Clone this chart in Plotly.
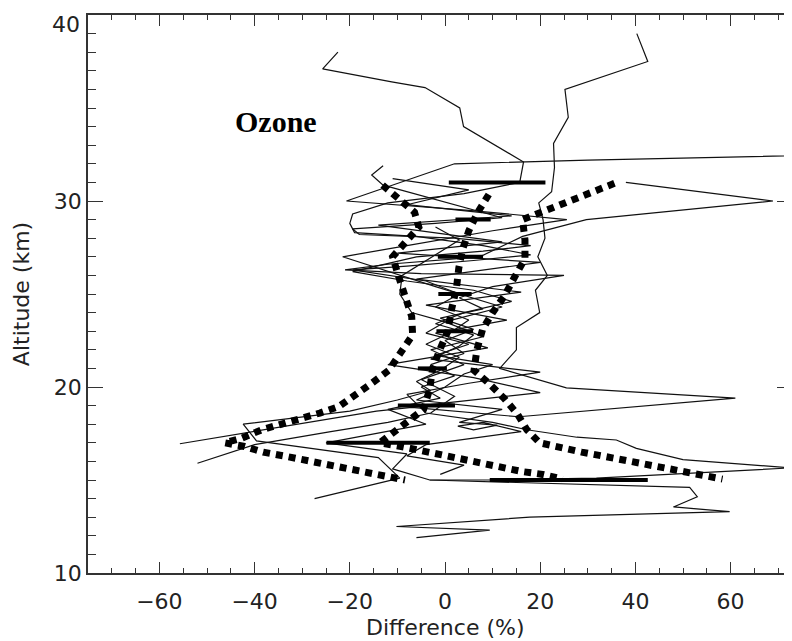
import plotly.graph_objects as go

# ---------------- data ----------------
# thin individual difference profiles: x = difference (%), y = altitude (km)
p1_x = [-22.5, -25.7, -11.2, -4.2, 3.1, 3.9, 16.5, 15.7, 4.0, -12.0, -19.4, -20.0, -19.0, -6.0, 8.0, 18.0, 6.0,
        -8.0, -19.4, -4.0, 3.0, -2.0, 5.0, 1.0, -4.0, 3.0, -1.0, -6.0, -3.0, -10.0, -20.0, -42.4, -39.6, -28.0,
        -14.0, -9.5, -27.4]
p1_y = [38.0, 37.1, 36.4, 36.1, 35.0, 34.0, 32.1, 31.0, 30.4, 29.9, 29.3, 28.8, 28.3, 28.1, 27.6, 27.1, 26.8,
        26.5, 26.3, 25.7, 25.0, 24.3, 23.6, 22.9, 22.3, 21.6, 20.9, 20.3, 19.8, 19.3, 18.7, 18.0, 17.1, 16.7,
        16.2, 15.1, 14.0]

p2_x = [40.3, 42.6, 25.2, 25.9, 22.8, 23.0, 22.4, 19.7, 20.6, 21.0, 19.5, 21.5, 19.0, 19.9, 15.0, 15.0, 11.5,
        25.5, 61.0, 15.5, -7.0, -14.4, -55.7]
p2_y = [39.0, 37.5, 36.0, 34.5, 33.1, 31.8, 30.5, 29.9, 29.0, 28.0, 27.0, 26.0, 25.2, 24.0, 23.2, 22.0, 21.0,
        19.95, 19.4, 18.4, 18.9, 18.7, 16.95]

p3_x = [-52.0, -40.0, -24.0, -12.0, -3.0, 2.0, -5.0, 4.0, -3.0, 8.0, 0.0, 12.0, -2.0, -21.5, -8.0, 10.0, 25.6,
        5.0, -20.7, 2.0, 30.0, 85.0]
p3_y = [15.9, 16.9, 17.6, 18.1, 18.6, 19.5, 20.4, 21.2, 22.0, 22.7, 23.5, 24.3, 25.4, 27.0, 27.6, 28.4, 29.0,
        29.5, 30.0, 32.0, 32.2, 32.5]

p4_x = [38.0, 68.9, 29.7, 16.3, 7.3, -12.0, -21.0, -5.0, 25.0, 10.0, 3.0, 8.0, -1.0, 6.0, 0.0, 4.0, -3.0, 2.0,
        -5.0, -1.0, -12.0, -4.0, -25.0, -8.0, -11.0, -3.2, 51.4, 53.0, 48.0, 59.8, 17.8, -3.2, -10.2, 9.4, -6.0]
p4_y = [31.0, 30.0, 29.0, 28.1, 27.0, 26.6, 26.3, 26.1, 26.0, 25.4, 24.8, 24.2, 23.7, 23.1, 22.5, 21.8, 21.2,
        20.6, 20.0, 19.4, 18.8, 18.0, 17.0, 16.4, 15.6, 15.0, 14.6, 14.1, 13.55, 13.3, 13.0, 12.65, 12.5, 12.3,
        11.9]

p5_x = [-13.0, -15.4, -13.0, 6.6, 12.0, -2.0, -19.4, -18.0, 2.0, 18.0, 8.0, -6.0, -19.4, -8.0, 6.0, 14.0, 4.0,
        -2.0, 6.0, 3.0, -3.0, 20.0, 5.0, -8.0, -4.0, 10.0, 17.2, 27.7, 36.0, 40.2, 50.0, 72.5, 31.8, 9.4, -3.2]
p5_y = [31.9, 31.4, 30.85, 29.5, 29.1, 28.8, 28.5, 28.2, 28.0, 27.6, 27.3, 27.0, 26.2, 25.7, 25.2, 24.6, 24.0,
        23.4, 22.8, 22.2, 21.5, 20.8, 20.2, 19.6, 18.6, 18.1, 17.7, 17.3, 17.15, 16.7, 16.1, 15.65, 15.1, 15.0,
        15.0]

p6_x = [-2.0, 3.0, -9.0, -9.5, -7.0, 0.0, -4.0, 5.0, -2.0, 10.0, 4.0, 0.0, -6.0, 12.0, 3.0, 11.0, 6.0, 2.7,
        8.0, 16.0, -4.0, -8.0, 4.0, -1.0]
p6_y = [28.6, 27.9, 26.0, 25.0, 24.0, 23.5, 22.9, 22.3, 21.7, 21.2, 20.7, 20.0, 19.3, 18.8, 18.1, 17.95, 17.7,
        17.9, 18.1, 17.6, 16.9, 16.3, 15.8, 15.3]

p7_x = [-11.0, 5.0, -8.0, 14.0, -14.0, 12.0, -10.0, 20.0, -6.0, 16.0, -4.0, 13.0, -2.0, 9.0, -12.0, 6.0, 20.0,
        -5.0]
p7_y = [31.2, 30.6, 29.8, 29.2, 28.7, 27.8, 27.2, 26.7, 25.8, 25.1, 24.4, 23.6, 22.9, 22.1, 21.2, 20.5, 19.7,
        19.0]

profiles = [(p1_x, p1_y), (p2_x, p2_y), (p3_x, p3_y), (p4_x, p4_y), (p5_x, p5_y), (p6_x, p6_y), (p7_x, p7_y)]

# thick dotted envelope curves
left_x = [-13.1, -9.7, -6.4, -5.5, -8.3, -11.0, -9.7, -8.3, -7.0, -6.8, -9.5, -11.8, -15.4, -18.8, -22.3,
          -26.3, -30.5, -34.7, -38.5, -42.7, -46.3, -42.1, -38.2, -34.0, -29.9, -25.7, -21.4, -17.2, -13.1, -8.4]
left_y = [30.85, 30.15, 29.4, 28.6, 27.8, 27.0, 25.9, 24.9, 23.8, 22.8, 21.8, 20.9, 20.2, 19.6, 18.95,
          18.6, 18.3, 18.0, 17.7, 17.25, 17.0, 16.8, 16.5, 16.3, 16.1, 15.9, 15.65, 15.45, 15.2, 15.0]

mid_x = [9.2, 6.9, 5.0, 3.7, 2.9, 2.4, 1.4, 0.6, -1.1, -2.6, -3.2, -4.5, -7.8, -11.2, -13.7, -9.2, -4.7, -0.5,
         3.7, 8.0, 12.1, 16.3, 20.5, 24.7]
mid_y = [30.35, 29.4, 28.4, 27.4, 26.4, 25.3, 24.2, 23.0, 22.0, 21.0, 19.9, 18.8, 18.15, 17.5, 17.0, 16.8,
         16.55, 16.35, 16.1, 15.9, 15.65, 15.45, 15.3, 15.05]

right_x = [35.6, 32.0, 28.0, 24.0, 20.3, 16.3, 16.8, 16.8, 14.6, 12.5, 10.0, 7.9, 6.7, 6.1, 9.2, 12.4, 15.2,
           17.2, 19.9, 24.5, 28.7, 32.9, 37.1, 41.3, 45.7, 49.9, 54.1, 58.3]
right_y = [30.95, 30.6, 30.2, 29.8, 29.4, 29.0, 27.9, 26.9, 25.9, 24.9, 24.0, 23.1, 22.0, 20.9, 20.2, 19.4,
           18.55, 17.7, 17.0, 16.7, 16.5, 16.3, 16.1, 15.9, 15.7, 15.5, 15.3, 15.05]

dotted = [(left_x, left_y), (mid_x, mid_y), (right_x, right_y)]

# horizontal error bars (low / high difference at each altitude)
bar_alt = [31, 29, 27, 25, 23, 21, 19, 17, 15]
bar_lo = [0.8, 2.2, -1.5, -1.4, -1.8, -5.7, -9.9, -24.9, 9.4]
bar_hi = [21.1, 9.6, 8.0, 5.6, 5.9, 0.4, 2.1, -3.2, 42.6]

x_ticks = [-60, -40, -20, 0, 20, 40, 60]
y_ticks = [10, 20, 30, 40]
y_tick_text = ["10", "20", "30", ""]   # the top label "40" sits just below its tick (see annotation)
y_top_label = "40"

# ---------------- figure ----------------
fig = go.Figure()

for px_, py_ in profiles:
    fig.add_trace(go.Scatter(x=px_, y=py_, mode="lines",
                             line=dict(color="#111111", width=1.2), showlegend=False, hoverinfo="skip"))

for dx, dy in dotted:
    fig.add_trace(go.Scatter(x=dx, y=dy, mode="lines",
                             line=dict(color="black", width=7, dash="7px,6px"),
                             showlegend=False, hoverinfo="skip"))

centers = [(a + b) / 2 for a, b in zip(bar_lo, bar_hi)]
halfw = [(b - a) / 2 for a, b in zip(bar_lo, bar_hi)]
fig.add_trace(go.Scatter(x=centers, y=bar_alt, mode="markers",
                         marker=dict(size=1, color="rgba(0,0,0,0)"),
                         error_x=dict(type="data", array=halfw, visible=True, thickness=4, width=0,
                                      color="black"),
                         showlegend=False, hoverinfo="skip"))

fig.add_annotation(x=-35.4, y=34.3, xref="x", yref="y", text="<b>Ozone</b>", showarrow=False,
                   font=dict(family="Liberation Serif", size=30, color="black"))
fig.add_annotation(x=0, y=-0.097, xref="x", yref="paper", text="Difference (%)", showarrow=False,
                   yanchor="middle", font=dict(family="DejaVu Sans", size=22, color="#222"))
fig.add_annotation(x=0, y=max(y_ticks), xref="paper", yref="y", text=y_top_label, showarrow=False,
                   xanchor="right", yanchor="top", xshift=-6, yshift=5,
                   font=dict(family="DejaVu Sans", size=22, color="#222"))

axis_common = dict(showgrid=False, zeroline=False, showline=True, linecolor="#333", linewidth=1.5,
                   ticks="inside", tickcolor="#333", tickwidth=1.3, mirror="ticks", automargin=False,
                   ticklabeloverflow="allow",
                   tickfont=dict(family="DejaVu Sans", size=22, color="#222"))

fig.update_xaxes(range=[-75, 72.9], tickvals=x_ticks, ticklen=11, ticklabelstandoff=8,
                 minor=dict(dtick=5, tick0=0, ticklen=5, ticks="inside", tickcolor="#333", tickwidth=1.2),
                 **axis_common)
fig.update_yaxes(range=[10, 40], tickvals=y_ticks, ticktext=y_tick_text, ticklen=15,
                 minor=dict(dtick=1, tick0=0, ticklen=8, ticks="inside", tickcolor="#333", tickwidth=1.2),
                 title=dict(text="Altitude (km)", font=dict(family="DejaVu Sans", size=22, color="#222"),
                            standoff=18),
                 **axis_common)

# the page adds an 8px body margin, so the figure is sized/positioned to compensate
fig.update_layout(width=784, height=633, margin=dict(l=80, r=0, t=7, b=68),
                  paper_bgcolor="white", plot_bgcolor="white")

fig.write_html("out.html")
